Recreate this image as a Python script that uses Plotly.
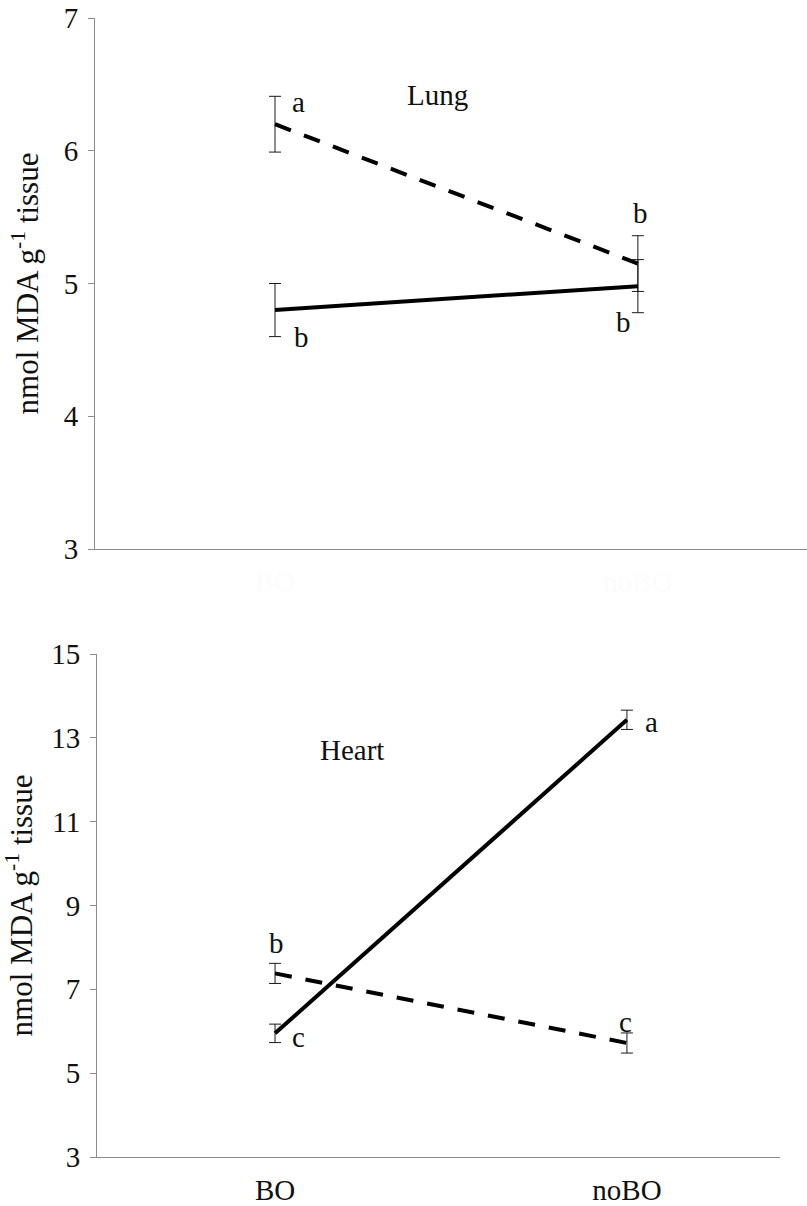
import plotly.graph_objects as go

# ---- data ----
categories = ["BO", "noBO"]

lung_dashed = [6.20, 5.15]
lung_dashed_err = [0.21, 0.21]
lung_solid = [4.80, 4.98]
lung_solid_err = [0.20, 0.20]

heart_dashed = [7.38, 5.72]
heart_dashed_err = [0.24, 0.24]
heart_solid = [5.95, 13.43]
heart_solid_err = [0.22, 0.23]

lung_ticks = [3, 4, 5, 6, 7]
heart_ticks = [3, 5, 7, 9, 11, 13, 15]

lung_letters_dashed = ["a", "b"]
lung_letters_solid = ["b", "b"]
heart_letters_dashed = ["b", "c"]
heart_letters_solid = ["c", "a"]

# ---- styling ----
FONT = "Liberation Serif, Times New Roman, serif"
FS = 29
AXC = "#8c8c8c"
W, H = 807, 1206
ML = 95

fig = go.Figure()


def add_series(y, err, dash, xa, ya):
    fig.add_trace(go.Scatter(
        x=categories, y=y, mode="lines",
        line=dict(color="black", width=4, dash=dash),
        error_y=dict(type="data", array=err, color="#1a1a1a", thickness=1, width=6),
        xaxis=xa, yaxis=ya, showlegend=False, hoverinfo="skip",
    ))


add_series(lung_dashed, lung_dashed_err, "17px,14px", "x", "y")
add_series(lung_solid, lung_solid_err, "solid", "x", "y")
add_series(heart_dashed, heart_dashed_err, "17px,14px", "x2", "y2")
add_series(heart_solid, heart_solid_err, "solid", "x2", "y2")

# letter annotations (offsets in pixels from the data point)
ann = []


def letters(labels, values, shifts, xr, yr):
    for cat, lab, v, (dx, dy) in zip(categories, labels, values, shifts):
        ann.append(dict(x=cat, y=v, xref=xr, yref=yr, text=lab, showarrow=False,
                        xshift=dx, yshift=dy, xanchor="center", yanchor="middle",
                        font=dict(family=FONT, size=FS, color="#111")))


letters(lung_letters_dashed, lung_dashed, [(23, 22), (3, 51)], "x", "y")
letters(lung_letters_solid, lung_solid, [(26, -27), (-14, -36)], "x", "y")
letters(heart_letters_dashed, heart_dashed, [(1, 30), (-1, 21)], "x2", "y2")
letters(heart_letters_solid, heart_solid, [(23, -4), (25, -2)], "x2", "y2")

pw = W - ML
ann.append(dict(x=(437 - ML) / pw, y=1 - 95 / H, xref="paper", yref="paper", text="Lung",
                xanchor="center", yanchor="middle",
                showarrow=False, font=dict(family=FONT, size=FS, color="#111")))
ann.append(dict(x=(352 - ML) / pw, y=1 - 750 / H, xref="paper", yref="paper", text="Heart",
                xanchor="center", yanchor="middle",
                showarrow=False, font=dict(family=FONT, size=FS, color="#111")))

ytitle = dict(text="nmol MDA g<sup>-1</sup> tissue", font=dict(family=FONT, size=31, color="#111"))

common_y = dict(showline=True, linecolor=AXC, linewidth=1, ticks="outside", ticklen=6,
                tickcolor=AXC, showgrid=False, zeroline=False, automargin=False,
                tickfont=dict(family=FONT, size=FS, color="#111"), ticklabelstandoff=4,
                title=ytitle)
common_x = dict(showline=True, linecolor=AXC, linewidth=1, ticks="", showgrid=False,
                zeroline=False, type="category", categoryorder="array", automargin=False,
                categoryarray=categories, ticklabelstandoff=7)

fig.update_layout(
    width=W, height=H, margin=dict(l=ML, r=0, t=0, b=0, autoexpand=False),
    paper_bgcolor="white", plot_bgcolor="white",
    xaxis=dict(common_x, domain=[0, 1], anchor="y", range=[-0.496, 1.466],
               tickfont=dict(family=FONT, size=FS, color="#fcfcfc")),
    yaxis=dict(common_y, domain=[1 - 549 / H, 1 - 18 / H], anchor="x", range=[3, 7],
               tickvals=lung_ticks),
    xaxis2=dict(common_x, domain=[(97 - ML) / pw, (780 - ML) / pw], anchor="y2",
                range=[-0.506, 1.435], tickfont=dict(family=FONT, size=FS, color="#111")),
    yaxis2=dict(common_y, domain=[1 - 1157 / H, 1 - 654 / H], anchor="x2", range=[3, 15],
                tickvals=heart_ticks),
    annotations=ann,
)

fig.write_html("out.html")
